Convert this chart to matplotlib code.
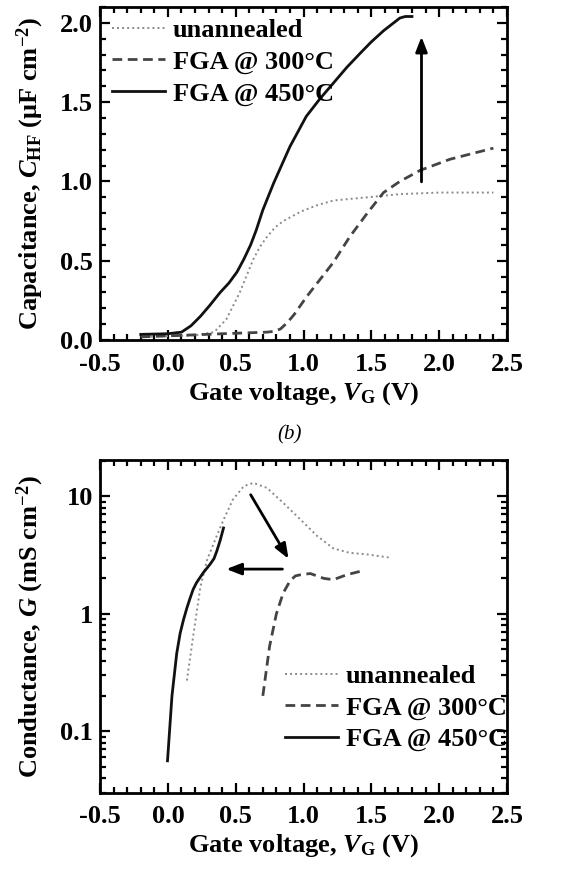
import matplotlib
matplotlib.use('Agg')
from matplotlib import pyplot as plt
from matplotlib.ticker import MultipleLocator, LogLocator, FixedLocator, FixedFormatter, FormatStrFormatter, NullFormatter

plt.rcParams['font.family'] = ['Liberation Serif', 'DejaVu Serif']
plt.rcParams['font.weight'] = 'bold'
plt.rcParams['axes.labelweight'] = 'bold'
plt.rcParams['mathtext.fontset'] = 'custom'
plt.rcParams['mathtext.rm'] = 'Liberation Serif:bold'
plt.rcParams['mathtext.it'] = 'Liberation Serif:bold:italic'
plt.rcParams['mathtext.bf'] = 'Liberation Serif:bold'

labels = ['unannealed', 'FGA @ 300°C', 'FGA @ 450°C']
styles = [(0, (1, 1.6)), (0, (3.5, 2)), '-']
colors = ['#8a8a8a', '#444444', '#111111']
widths = [1.4, 2.0, 2.0]

# (a) capacitance vs gate voltage
cv_un_x = [-0.2, 0.0, 0.2, 0.34, 0.43, 0.53, 0.63, 0.68, 0.73, 0.79, 0.85, 0.98, 1.1, 1.22, 1.47, 1.71, 2.0, 2.4]
cv_un_y = [0.02, 0.025, 0.03, 0.05, 0.13, 0.30, 0.51, 0.59, 0.65, 0.71, 0.75, 0.81, 0.85, 0.88, 0.90, 0.92, 0.93, 0.93]
cv_300_x = [-0.2, 0.11, 0.4, 0.73, 0.78, 0.83, 0.88, 0.93, 1.02, 1.12, 1.22, 1.34, 1.47, 1.59, 1.71, 1.86, 2.08, 2.4]
cv_300_y = [0.02, 0.03, 0.04, 0.05, 0.055, 0.07, 0.11, 0.16, 0.27, 0.38, 0.49, 0.65, 0.80, 0.93, 1.00, 1.07, 1.14, 1.21]
cv_450_x = [-0.2, 0.0, 0.1, 0.17, 0.24, 0.31, 0.385, 0.45, 0.51, 0.56, 0.61, 0.65, 0.7, 0.78, 0.9, 1.02, 1.12, 1.22, 1.32,
            1.42, 1.5, 1.59, 1.65, 1.71, 1.75, 1.8]
cv_450_y = [0.036, 0.04, 0.05, 0.09, 0.15, 0.22, 0.30, 0.36, 0.43, 0.51, 0.60, 0.69, 0.82, 0.99, 1.22, 1.41, 1.52, 1.62,
            1.72, 1.81, 1.88, 1.95, 1.99, 2.03, 2.04, 2.04]

# (b) conductance vs gate voltage
g_un_x = [0.14, 0.19, 0.24, 0.29, 0.36, 0.41, 0.48, 0.56, 0.63, 0.73, 0.85, 0.98, 1.1, 1.22, 1.34, 1.47, 1.64]
g_un_y = [0.27, 0.69, 1.7, 2.9, 4.6, 6.3, 9.4, 12.2, 13.0, 11.8, 8.8, 6.3, 4.6, 3.6, 3.3, 3.2, 3.0]
g_300_x = [0.70, 0.75, 0.80, 0.85, 0.90, 0.94, 0.98, 1.05, 1.15, 1.22, 1.32, 1.42]
g_300_y = [0.20, 0.53, 1.0, 1.5, 1.9, 2.1, 2.15, 2.2, 2.0, 1.95, 2.15, 2.3]
g_450_x = [-0.003, 0.03, 0.065, 0.09, 0.115, 0.14, 0.16, 0.185, 0.21, 0.26, 0.31, 0.34, 0.36, 0.385, 0.41]
g_450_y = [0.056, 0.20, 0.46, 0.68, 0.89, 1.12, 1.32, 1.6, 1.83, 2.23, 2.63, 2.95, 3.4, 4.2, 5.37]

fig = plt.figure(figsize=(5.82, 8.72), dpi=100)
ax1 = fig.add_axes([0.172, 0.610, 0.699, 0.382])
ax2 = fig.add_axes([0.172, 0.091, 0.699, 0.381])

for x, y, ls, c, lw, lab in zip([cv_un_x, cv_300_x, cv_450_x], [cv_un_y, cv_300_y, cv_450_y],
                                styles, colors, widths, labels):
    ax1.plot(x, y, ls=ls, color=c, lw=lw, label=lab)

for x, y, ls, c, lw, lab in zip([g_un_x, g_300_x, g_450_x], [g_un_y, g_300_y, g_450_y],
                                styles, colors, widths, labels):
    ax2.plot(x, y, ls=ls, color=c, lw=lw, label=lab)

arrow = dict(arrowstyle='-|>,head_length=0.9,head_width=0.35', color='black', lw=2)
ax1.annotate('', xy=(1.87, 1.93), xytext=(1.87, 0.98), arrowprops=arrow)
ax2.set_yscale('log')
ax2.annotate('', xy=(0.90, 2.8), xytext=(0.60, 10.8), arrowprops=arrow)
ax2.annotate('', xy=(0.41, 2.4), xytext=(0.865, 2.4), arrowprops=arrow)

ax1.set_xlim(-0.5, 2.5)
ax1.set_ylim(0, 2.1)
ax2.set_xlim(-0.5, 2.5)
ax2.set_ylim(0.03, 20.2)

for ax in (ax1, ax2):
    ax.xaxis.set_major_locator(MultipleLocator(0.5))
    ax.xaxis.set_minor_locator(MultipleLocator(0.1))
    ax.xaxis.set_major_formatter(FormatStrFormatter('%.1f'))
    ax.tick_params(which='both', direction='in', top=True, right=True, width=1.6)
    ax.tick_params(which='major', length=7, labelsize=19, pad=5)
    ax.tick_params(axis='x', which='major', pad=9)
    ax.tick_params(which='minor', length=4)
    for s in ax.spines.values():
        s.set_linewidth(2)
    ax.set_xlabel('Gate voltage, $V_{\\mathrm{G}}$ (V)', fontsize=19, labelpad=3)

ax1.yaxis.set_major_locator(MultipleLocator(0.5))
ax1.yaxis.set_minor_locator(MultipleLocator(0.1))
ax1.yaxis.set_major_formatter(FormatStrFormatter('%.1f'))
ax1.set_ylabel('Capacitance, $C_{\\mathrm{HF}}$ ($\\mathrm{\\mu}$F cm$^{-2}$)', fontsize=19, labelpad=10)
ax1.legend(loc='upper left', frameon=False, fontsize=19, handlelength=2.0,
           handletextpad=0.3, labelspacing=0.3, borderaxespad=0.3, borderpad=0.15)

ax2.yaxis.set_major_locator(FixedLocator([0.1, 1, 10]))
ax2.yaxis.set_major_formatter(FixedFormatter(['0.1', '1', '10']))
ax2.yaxis.set_minor_locator(LogLocator(base=10, subs=range(2, 10)))
ax2.yaxis.set_minor_formatter(NullFormatter())
ax2.set_ylabel('Conductance, $G$ (mS cm$^{-2}$)', fontsize=19, labelpad=10)
ax2.legend(loc='lower right', bbox_to_anchor=(1.0, 0.125), frameon=False, fontsize=19,
           handlelength=2.0, handletextpad=0.3, labelspacing=0.3, borderaxespad=0.0, borderpad=0.0)

fig.text(0.497, 0.501, '(b)', fontsize=15, fontweight='normal', style='italic', ha='center', va='center')

fig.savefig('out.png', dpi=100, facecolor='white')
